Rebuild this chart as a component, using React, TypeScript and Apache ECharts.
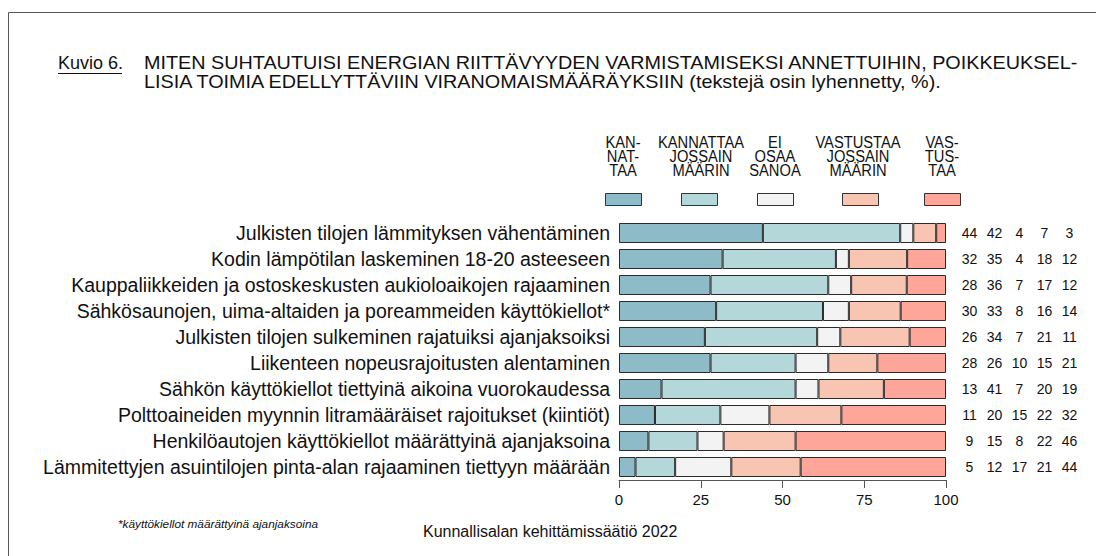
import React, { useEffect, useRef } from "react";
import * as echarts from "echarts";

const categories = [
  "Julkisten tilojen lämmityksen vähentäminen",
  "Kodin lämpötilan laskeminen 18-20 asteeseen",
  "Kauppaliikkeiden ja ostoskeskusten aukioloaikojen rajaaminen",
  "Sähkösaunojen, uima-altaiden ja poreammeiden käyttökiellot*",
  "Julkisten tilojen sulkeminen rajatuiksi ajanjaksoiksi",
  "Liikenteen nopeusrajoitusten alentaminen",
  "Sähkön käyttökiellot tiettyinä aikoina vuorokaudessa",
  "Polttoaineiden myynnin litramääräiset rajoitukset (kiintiöt)",
  "Henkilöautojen käyttökiellot määrättyinä ajanjaksoina",
  "Lämmitettyjen asuintilojen pinta-alan rajaaminen tiettyyn määrään",
];

const seriesNames = [
  "KANNATTAA",
  "KANNATTAA JOSSAIN MÄÄRIN",
  "EI OSAA SANOA",
  "VASTUSTAA JOSSAIN MÄÄRIN",
  "VASTUSTAA",
];
const legendLabels = [
  "KAN-\nNAT-\nTAA",
  "KANNATTAA\nJOSSAIN\nMÄÄRIN",
  "EI\nOSAA\nSANOA",
  "VASTUSTAA\nJOSSAIN\nMÄÄRIN",
  "VAS-\nTUS-\nTAA",
];

const kannattaa = [44, 32, 28, 30, 26, 28, 13, 11, 9, 5];
const kannattaaJossain = [42, 35, 36, 33, 34, 26, 41, 20, 15, 12];
const eiOsaa = [4, 4, 7, 8, 7, 10, 7, 15, 8, 17];
const vastustaaJossain = [7, 18, 17, 16, 21, 15, 20, 22, 22, 21];
const vastustaa = [3, 12, 12, 14, 11, 21, 19, 32, 46, 44];

const xTicks = [0, 25, 50, 75, 100];

const colors = ["#8dbbc7", "#b4d7da", "#f3f3f3", "#f8c5b2", "#fea69a"];

const allValues = [kannattaa, kannattaaJossain, eiOsaa, vastustaaJossain, vastustaa];

export default function App() {
  const ref = useRef<HTMLDivElement>(null);

  useEffect(() => {
    if (!ref.current) return;
    const chart = echarts.init(ref.current, undefined, { renderer: "svg" });
    const totals = categories.map((_, i) =>
      allValues.reduce((s, arr) => s + arr[i], 0)
    );
    const font = "Liberation Sans, Arial, sans-serif";

    const legendX = [605, 681, 757, 842, 924];
    const legendLabelX = [623, 701, 775, 858, 942];

    const option: any = {
      animation: false,
      backgroundColor: "#ffffff",
      textStyle: { fontFamily: font },
      grid: { left: 619, right: 150, top: 220, height: 260, containLabel: false },
      legend: seriesNames.map((n, i) => ({
        data: [n],
        left: legendX[i],
        top: 193,
        padding: 0,
        itemWidth: 36,
        itemHeight: 12,
        icon: "rect",
        formatter: () => "",
        selectedMode: false,
        itemStyle: { borderColor: "#333", borderWidth: 1 },
      })),
      xAxis: {
        type: "value",
        min: xTicks[0],
        max: xTicks[xTicks.length - 1],
        interval: 25,
        splitLine: { show: false },
        axisLine: { show: true, lineStyle: { color: "#555", width: 1 } },
        axisTick: { show: true, length: 8, lineStyle: { color: "#555" } },
        axisLabel: { fontSize: 15, color: "#111", margin: 12, fontFamily: font },
      },
      yAxis: [
        {
          type: "category",
          data: categories,
          inverse: true,
          axisLine: { show: false },
          axisTick: { show: false },
          axisLabel: {
            interval: 0,
            fontSize: 19.5,
            color: "#111",
            margin: 9,
            fontFamily: font,
          },
        },
        {
          type: "category",
          data: categories,
          inverse: true,
          position: "right",
          axisLine: { show: false },
          axisTick: { show: false },
          axisLabel: {
            interval: 0,
            margin: 11,
            align: "left",
            formatter: (_v: string, i: number) =>
              allValues.map((arr) => `{c|${arr[i]}}`).join(""),
            rich: {
              c: {
                width: 25,
                align: "center",
                fontSize: 14,
                color: "#111",
                fontFamily: font,
              },
            },
          },
        },
      ],
      series: allValues.map((arr, si) => ({
        name: seriesNames[si],
        type: "bar",
        stack: "total",
        yAxisIndex: 0,
        barWidth: 20,
        data: arr.map((v, i) => (v / totals[i]) * 100),
        itemStyle: { color: colors[si], borderColor: "#2b2b2b", borderWidth: 1 },
        emphasis: { disabled: true },
      })),
      graphic: [
        {
          type: "rect",
          shape: { x: 8.5, y: 12.5, width: 2000, height: 2000 },
          style: { fill: "none", stroke: "#555", lineWidth: 1 },
          silent: true,
        },
        {
          type: "text",
          x: 58,
          y: 63,
          style: {
            text: "Kuvio 6.",
            font: `18px ${font}`,
            fill: "#111",
            textVerticalAlign: "middle",
          },
        },
        {
          type: "line",
          shape: { x1: 58, y1: 73.5, x2: 122, y2: 73.5 },
          style: { stroke: "#111", lineWidth: 1 },
        },
        {
          type: "text",
          x: 144,
          y: 53,
          scaleX: 1.1,
          style: {
            text:
              "MITEN SUHTAUTUISI ENERGIAN RIITTÄVYYDEN VARMISTAMISEKSI ANNETTUIHIN, POIKKEUKSEL-\nLISIA TOIMIA EDELLYTTÄVIIN VIRANOMAISMÄÄRÄYKSIIN (tekstejä osin lyhennetty, %).",
            font: `18px ${font}`,
            lineHeight: 19,
            fill: "#111",
            textVerticalAlign: "top",
          },
        },
        ...legendLabels.map((t, i) => ({
          type: "text",
          x: legendLabelX[i],
          y: 135,
          scaleX: 0.92,
          style: {
            text: t,
            font: `16px ${font}`,
            lineHeight: 14,
            fill: "#111",
            textAlign: "center",
            textVerticalAlign: "top",
          },
        })),
        {
          type: "text",
          x: 118,
          y: 524,
          style: {
            text: "*käyttökiellot määrättyinä ajanjaksoina",
            font: `italic 11.8px ${font}`,
            fill: "#111",
            textVerticalAlign: "middle",
          },
        },
        {
          type: "text",
          x: 423,
          y: 531,
          style: {
            text: "Kunnallisalan kehittämissäätiö 2022",
            font: `16px ${font}`,
            fill: "#111",
            textVerticalAlign: "middle",
          },
        },
      ],
    };
    chart.setOption(option);
    return () => chart.dispose();
  }, []);

  return (
    <div
      ref={ref}
      style={{ position: "absolute", left: 0, top: 0, width: 1096, height: 556 }}
    />
  );
}
